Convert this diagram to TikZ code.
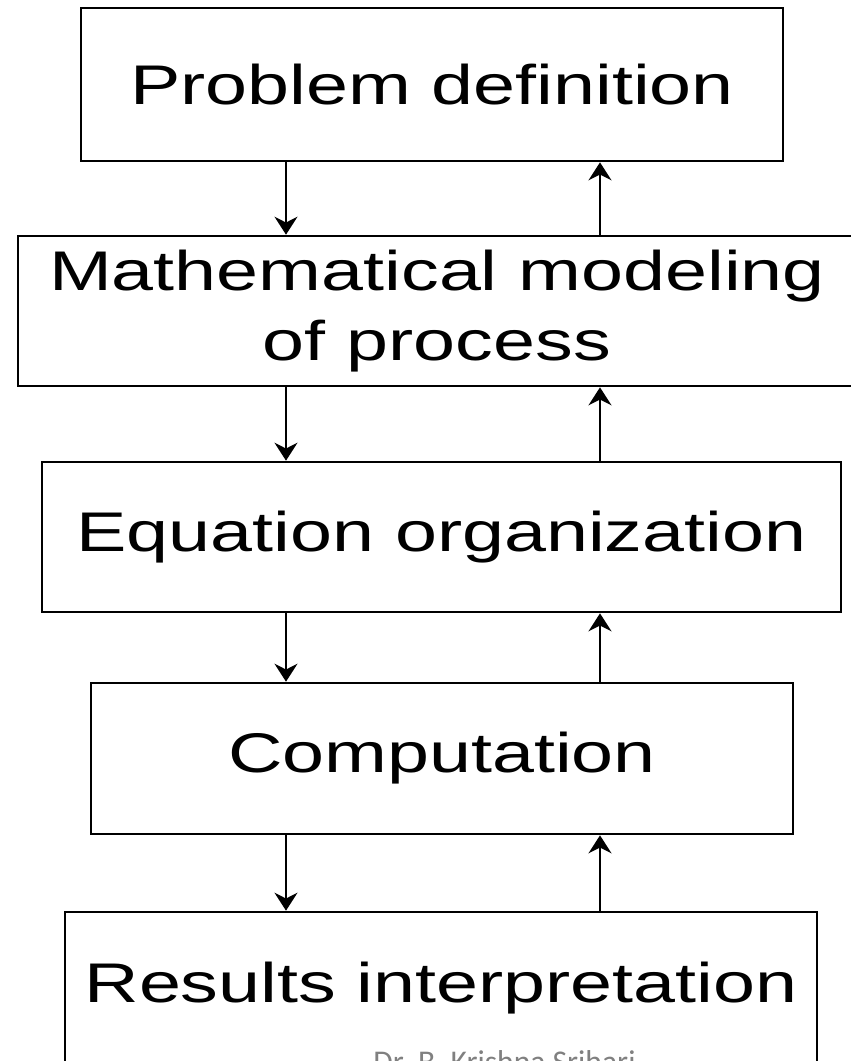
\documentclass[tikz,border=0pt]{standalone}
\usepackage{fontspec}
\setmainfont{Liberation Sans}[FakeStretch=1.35]
\newfontfamily\footfont{Carlito}
\usetikzlibrary{arrows.meta}

\begin{document}
\begin{tikzpicture}[line width=0.75pt, font=\fontsize{15.9}{19.9}\selectfont,
    stage/.style={draw, inner sep=0pt, align=center},
    flow/.style={line width=0.6pt, -{Stealth[length=1.8mm, width=2.3mm]}}]
  % frame of the page (1 unit = 100 px of the slide)
  \path[use as bounding box, clip] (0,0) rectangle (8.51,-10.61);

  % the five stages
  \node[stage, minimum width=7.02cm, minimum height=1.53cm] (pd)   at (4.32,-0.845) {Problem definition};
  \node[stage, minimum width=8.38cm, minimum height=1.50cm] (mm)   at (4.37,-3.11)  {Mathematical modeling\\of process};
  \node[stage, minimum width=7.99cm, minimum height=1.50cm] (eo)   at (4.415,-5.37) {Equation organization};
  \node[stage, minimum width=7.02cm, minimum height=1.51cm] (comp) at (4.42,-7.585) {Computation};
  \node[stage, minimum width=7.52cm, minimum height=1.52cm] (ri)   at (4.41,-9.88)  {Results interpretation};

  % arrows down on the left, back up on the right
  \coordinate (dn) at (2.86,0);
  \coordinate (up) at (6.00,0);
  \foreach \a/\b in {pd/mm, mm/eo, eo/comp, comp/ri} {
    \draw[flow] (\a.south -| dn) -- (\b.north -| dn);
    \draw[flow] (\b.north -| up) -- (\a.south -| up);
  }

  % footer of the slide, cut by the page edge
  \node[anchor=base, font=\footfont\fontsize{9}{11}\selectfont, text=black!50] (sig) at (5.045,-10.72) {Dr. B. Krishna Srihari};
\end{tikzpicture}
\end{document}
